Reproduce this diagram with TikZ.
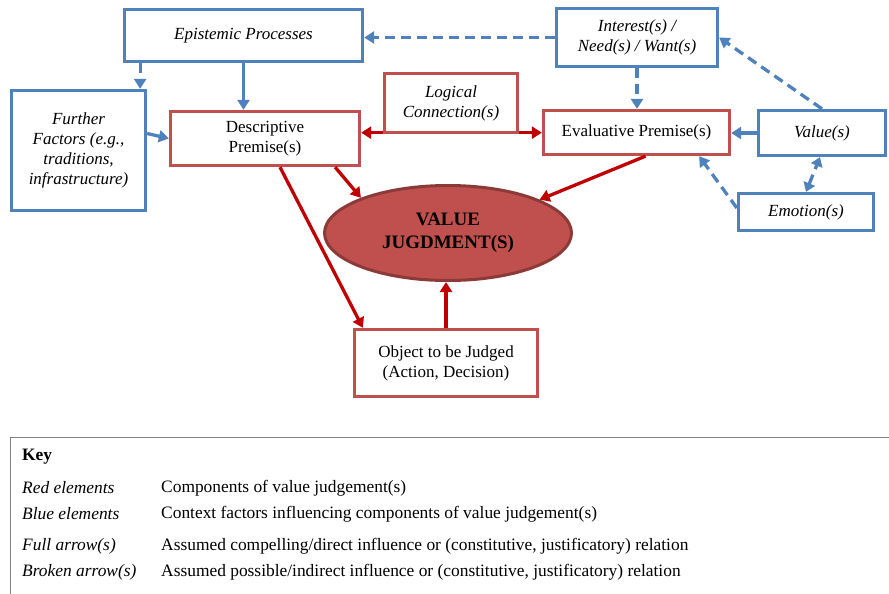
\documentclass[tikz,border=0pt]{standalone}
\usepackage{fontspec}
\setmainfont{Liberation Serif}
\usetikzlibrary{arrows.meta,shapes.geometric}
\definecolor{cblue}{HTML}{4F81BD}
\definecolor{cred}{HTML}{C0504D}
\definecolor{ared}{HTML}{C00000}
\definecolor{edark}{HTML}{8C3A38}
\definecolor{keygray}{HTML}{808080}
\begin{document}
\begin{tikzpicture}[x=1pt,y=-1pt,
  every node/.style={font=\fontsize{17}{20}\selectfont, align=center, inner sep=0pt},
  bluebox/.style={draw=cblue, line width=3.3pt, fill=white, rectangle},
  redbox/.style={draw=cred, line width=3.3pt, fill=white, rectangle},
  barrow/.style={draw=cblue, line width=3.3pt, -{Triangle[length=10pt,width=12pt]}},
  bdash/.style={barrow, dash pattern=on 10pt off 6pt},
  bdashboth/.style={bdash, {Triangle[length=9pt,width=12pt]}-{Triangle[length=9pt,width=12pt]}},
  rarrow/.style={draw=ared, line width=3.3pt, -{Triangle[length=10pt,width=12pt]}},
  keylabel/.style={anchor=west, font=\fontsize{17.4}{20}\selectfont\itshape},
  keytext/.style={anchor=west, font=\fontsize{17.4}{20}\selectfont},
]
\useasboundingbox (0,0) rectangle (889,594);

% nodes
\node[bluebox, minimum width=238pt, minimum height=52pt] (epi) at (243.5,35.5) {\itshape Epistemic Processes};
\node[bluebox, minimum width=134pt, minimum height=120pt] (ff) at (78.5,150.5) {\itshape Further\\\itshape Factors (e.g.,\\\itshape traditions,\\\itshape infrastructure)};
\node[redbox, minimum width=189pt, minimum height=54pt] (desc) at (265,138.5) {Descriptive\\Premise(s)};
\node[redbox, minimum width=133pt, minimum height=59pt] (logic) at (451,103) {\itshape Logical\\\itshape Connection(s)};
\node[redbox, minimum width=186pt, minimum height=44pt] (eval) at (636.5,132.5) {Evaluative Premise(s)};
\node[bluebox, minimum width=161pt, minimum height=58pt] (int) at (637,37.5) {\itshape Interest(s) /\\\itshape Need(s) / Want(s)};
\node[bluebox, minimum width=127pt, minimum height=45pt] (val) at (822,133) {\itshape Value(s)};
\node[bluebox, minimum width=135pt, minimum height=37pt] (emo) at (806,212) {\itshape Emotion(s)};
\node[redbox, minimum width=183pt, minimum height=67pt] (obj) at (446,363) {Object to be Judged\\(Action, Decision)};
\node[ellipse, draw=edark, fill=cred, line width=3pt, minimum width=247pt, minimum height=95pt,
      font=\fontsize{19}{23}\selectfont\bfseries] (ell) at (448,233) {VALUE\\JUGDMENT(S)};

% blue connectors
\coordinate (ffin) at ([xshift=-7pt]ff.north east);
\draw[barrow] (epi.south) -- (epi.south |- desc.north);
\draw[bdash] (epi.south -| ffin) -- (ffin);
\draw[barrow] ([yshift=17pt]ff.east) -- (desc.west);
\draw[bdash] (int.west) -- (int.west -| epi.east);
\draw[bdash] (int.south) -- (int.south |- eval.north);
\draw[bdash] (val.north) -- (int.east);
\draw[barrow] (val.west) -- (val.west -| eval.east);
\draw[bdashboth] (emo.north) -- ([xshift=-2pt]val.south);
\draw[bdash] ([yshift=4pt]emo.west) -- ([xshift=-32pt]eval.south east);

% red connectors
\draw[rarrow] ([yshift=1.5pt]logic.south west) -- ([yshift=1.5pt]logic.south west -| desc.east);
\draw[rarrow] ([yshift=1.5pt]logic.south east) -- ([yshift=1.5pt]logic.south east -| eval.west);
\draw[rarrow] ([xshift=-26pt]desc.south east) -- (ell.158);
\draw[rarrow] ([xshift=15pt]desc.south) -- ([xshift=10pt]obj.north west);
\draw[rarrow] ([xshift=9pt]eval.south) -- (ell.20);
\draw[rarrow] (obj.north) -- (obj.north |- ell.south);

% key
\draw[keygray, line width=1pt] (889,437) -- (10,437) -- (10,594);
\node[anchor=west, font=\fontsize{17.4}{20}\selectfont\bfseries] (key) at (22,457) {Key};
\node[keylabel] (k1) at (22,488) {Red elements};
\node[keytext] (t1) at (161,488) {Components of value judgement(s)};
\node[keylabel] (k2) at (22,514) {Blue elements};
\node[keytext] (t2) at (161,514) {Context factors influencing components of value judgement(s)};
\node[keylabel] (k3) at (22,546) {Full arrow(s)};
\node[keytext] (t3) at (161,546) {Assumed compelling/direct influence or (constitutive, justificatory) relation};
\node[keylabel] (k4) at (22,572) {Broken arrow(s)};
\node[keytext] (t4) at (161,572) {Assumed possible/indirect influence or (constitutive, justificatory) relation};
\end{tikzpicture}
\end{document}
